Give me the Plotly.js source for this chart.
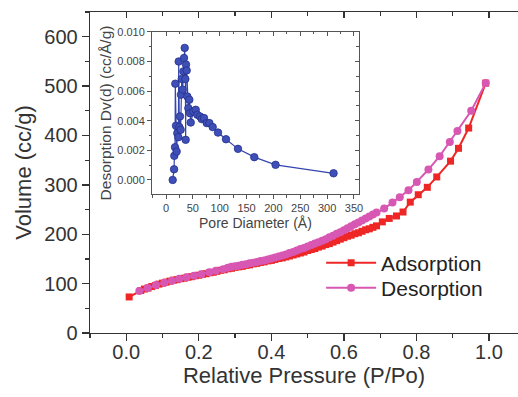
<!DOCTYPE html>
<html>
<head>
<meta charset="utf-8">
<script src="https://cdn.plot.ly/plotly-3.0.1.min.js"></script>
<style>html,body{margin:0;padding:0;background:#fff;}#chart{width:518px;height:397px;}</style>
</head>
<body>
<div id="chart"></div>
<script>
// Adsorption isotherm (relative pressure, volume cc/g)
var adsX = [0.008,0.04,0.05,0.06,0.07,0.08,0.09,0.10,0.11,0.12,0.13,0.14,0.15,0.16,0.17,0.18,0.19,0.20,0.21,0.22,0.23,0.24,0.25,0.26,0.27,0.28,0.29,0.30,0.31,0.32,0.33,0.34,0.35,0.36,0.37,0.38,0.39,0.40,0.41,0.42,0.43,0.44,0.45,0.46,0.47,0.48,0.49,0.50,0.51,0.52,0.53,0.54,0.55,0.56,0.57,0.58,0.59,0.60,0.61,0.62,0.63,0.64,0.65,0.66,0.67,0.68,0.69,0.706,0.725,0.745,0.763,0.783,0.805,0.83,0.856,0.894,0.916,0.944,0.991];
var adsY = [73,86,89,91,94,96,99,101,103,105,107,108,110,111,113,114,116,117,119,120,122,123,125,127,128,130,131,133,134,135,137,138,140,141,143,144,146,147,149,151,152,154,156,158,160,162,164,167,169,171,174,176,179,181,184,187,190,193,196,198,201,203,206,209,211,214,217,225,232,237,245,265,280,295,316,348,374,415,506];

// Desorption isotherm
var desX = [0.036,0.059,0.082,0.105,0.126,0.146,0.166,0.187,0.207,0.229,0.247,0.267,0.28,0.29,0.30,0.31,0.32,0.33,0.34,0.35,0.36,0.37,0.38,0.39,0.40,0.41,0.42,0.43,0.44,0.45,0.46,0.47,0.48,0.49,0.50,0.51,0.52,0.53,0.54,0.55,0.56,0.57,0.58,0.59,0.60,0.61,0.62,0.63,0.64,0.65,0.66,0.67,0.68,0.69,0.711,0.734,0.754,0.778,0.801,0.833,0.864,0.892,0.913,0.951,0.991];
var desY = [85,91,97,102,106,110,113,116,119,123,126,129,132,134,135,136,138,139,141,142,144,146,147,149,151,153,155,157,159,162,164,167,170,172,175,178,181,184,187,190,194,197,201,204,208,212,216,220,224,228,232,236,240,244,252,264,275,289,306,331,358,387,409,450,506];

// Inset: BJH pore size distribution
var poreD = [12.4,15,15.5,16.8,17.3,18.6,19.8,21,23,23.6,24.8,26,27.3,27.8,29.2,31,32.3,33.5,34.8,36,36.6,37.2,38.5,39.7,41.6,43.4,44.7,46,50.9,55.3,58.3,63.3,66.5,70.8,75.8,80.7,86.9,96.8,111.7,134,164.4,204,312];
var poreDv = [0,0.00072,0.00163,0.00221,0.0065,0.00366,0.00192,0.00316,0.00289,0.008,0.00357,0.00429,0.00339,0.00576,0.00682,0.0061,0.00733,0.00824,0.00892,0.00682,0.00271,0.00779,0.0074,0.00564,0.00485,0.00542,0.00451,0.00388,0.00462,0.00474,0.0044,0.00429,0.00411,0.00418,0.00384,0.00384,0.00357,0.0032,0.00275,0.0021,0.00154,0.00102,0.00045];

var mainTicksX = [0,0.2,0.4,0.6,0.8,1.0];
var mainTickTextX = ['0.0','0.2','0.4','0.6','0.8','1.0'];

var FONT = 'Liberation Sans, Arial, sans-serif';
var AX = '#333333';

var traces = [
  {x: adsX, y: adsY, type: 'scatter', mode: 'lines+markers', name: 'Adsorption', legend: 'legend',
   line: {color: '#ee2626', width: 2}, marker: {symbol: 'square', size: 7, color: '#ee2626'}},
  {x: desX, y: desY, type: 'scatter', mode: 'lines+markers', name: 'Desorption', legend: 'legend2',
   line: {color: '#d757b3', width: 2}, marker: {symbol: 'circle', size: 8, color: '#d757b3'}},
  {x: poreD, y: poreDv, type: 'scatter', mode: 'lines+markers', xaxis: 'x2', yaxis: 'y2', showlegend: false,
   line: {color: '#3445b0', width: 1.2},
   marker: {symbol: 'circle', size: 7.5, color: '#3e4fb8', line: {color: '#26318a', width: 0.8}}},
  {x: [null], y: [null], xaxis: 'x3', yaxis: 'y', showlegend: false, hoverinfo: 'skip', type: 'scatter'},
  {x: [null], y: [null], xaxis: 'x4', yaxis: 'y2', showlegend: false, hoverinfo: 'skip', type: 'scatter'},
  {x: [null], y: [null], xaxis: 'x2', yaxis: 'y4', showlegend: false, hoverinfo: 'skip', type: 'scatter'}
];

var legendBase = {xanchor: 'left', yanchor: 'middle', bgcolor: 'rgba(0,0,0,0)',
                  font: {size: 21, family: FONT, color: '#222'}, itemwidth: 50};

var layout = {
  width: 518, height: 397,
  margin: {l: 90, r: 0, t: 12, b: 64},
  paper_bgcolor: '#fff', plot_bgcolor: '#fff',
  font: {family: FONT, color: AX},
  showlegend: true,
  legend: Object.assign({}, legendBase, {x: 0.54, y: 0.218}),
  legend2: Object.assign({}, legendBase, {x: 0.54, y: 0.140}),
  xaxis: {range: [-0.1, 1.08], tickvals: mainTicksX, ticktext: mainTickTextX,
          showgrid: false, zeroline: false, showline: true, linecolor: AX, linewidth: 1.3,
          ticks: 'outside', ticklen: 7, tickwidth: 1.3, tickcolor: AX, ticklabelstandoff: -6,
          minor: {dtick: 0.1, tick0: 0, ticks: 'outside', ticklen: 4, tickwidth: 1.2, tickcolor: AX, showgrid: false},
          tickfont: {size: 20, family: FONT, color: AX},
          title: {text: 'Relative Pressure (P/Po)', font: {size: 22, family: FONT, color: AX}, standoff: 0},
          automargin: false},
  xaxis3: {range: [-0.1, 1.08], overlaying: 'x', side: 'top', anchor: 'y', tickvals: mainTicksX,
           showticklabels: false, showgrid: false, zeroline: false, showline: true, linecolor: AX, linewidth: 1.3,
           ticks: 'inside', ticklen: 6, tickwidth: 1.3, tickcolor: AX,
           minor: {dtick: 0.1, tick0: 0, ticks: 'inside', ticklen: 4, tickwidth: 1.2, tickcolor: AX}},
  yaxis: {range: [0, 650], dtick: 100, tick0: 0,
          showgrid: false, zeroline: false, showline: true, linecolor: AX, linewidth: 1.3,
          ticks: 'outside', ticklen: 7, tickwidth: 1.3, tickcolor: AX,
          minor: {dtick: 50, tick0: 0, ticks: 'outside', ticklen: 4, tickwidth: 1.2, tickcolor: AX, showgrid: false},
          tickfont: {size: 20, family: FONT, color: AX},
          title: {text: 'Volume (cc/g)', font: {size: 22, family: FONT, color: AX}, standoff: 6},
          automargin: false},
  xaxis2: {domain: [0.145, 0.628], anchor: 'y2', range: [-26, 359], dtick: 50, tick0: 0,
           showgrid: false, zeroline: false, showline: true, linecolor: '#555', linewidth: 1,
           ticks: 'outside', ticklen: 4, tickwidth: 1, tickcolor: '#555',
           minor: {dtick: 25, tick0: 0, ticks: 'outside', ticklen: 2.5, tickwidth: 1, tickcolor: '#555'},
           tickfont: {size: 11, family: FONT, color: '#444'},
           title: {text: 'Pore Diameter (Å)', font: {size: 14, family: FONT, color: '#444'}, standoff: 4}},
  xaxis4: {overlaying: 'x2', side: 'top', anchor: 'y2', range: [-26, 359], dtick: 50, tick0: 0,
           showticklabels: false, showgrid: false, zeroline: false, showline: true, linecolor: '#555', linewidth: 1,
           ticks: 'inside', ticklen: 4, tickwidth: 1, tickcolor: '#555',
           minor: {dtick: 25, tick0: 0, ticks: 'inside', ticklen: 2.5, tickwidth: 1, tickcolor: '#555'}},
  yaxis2: {domain: [0.433, 0.938], anchor: 'x2', range: [-0.00095, 0.010], dtick: 0.002, tick0: 0, tickformat: '.3f',
           showgrid: false, zeroline: false, showline: true, linecolor: '#555', linewidth: 1,
           ticks: 'outside', ticklen: 4, tickwidth: 1, tickcolor: '#555',
           minor: {dtick: 0.001, tick0: 0, ticks: 'outside', ticklen: 2.5, tickwidth: 1, tickcolor: '#555'},
           tickfont: {size: 11, family: FONT, color: '#444'},
           title: {text: 'Desorption Dv(d) (cc/Å/g)', font: {size: 15.5, family: FONT, color: '#444'}, standoff: 1}},
  yaxis4: {overlaying: 'y2', side: 'right', anchor: 'x2', range: [-0.00095, 0.010], dtick: 0.002, tick0: 0,
           showticklabels: false, showgrid: false, zeroline: false, showline: true, linecolor: '#555', linewidth: 1,
           ticks: 'inside', ticklen: 4, tickwidth: 1, tickcolor: '#555',
           minor: {dtick: 0.001, tick0: 0, ticks: 'inside', ticklen: 2.5, tickwidth: 1, tickcolor: '#555'}}
};

Plotly.newPlot('chart', traces, layout, {displayModeBar: false, staticPlot: true});
</script>
</body>
</html>
